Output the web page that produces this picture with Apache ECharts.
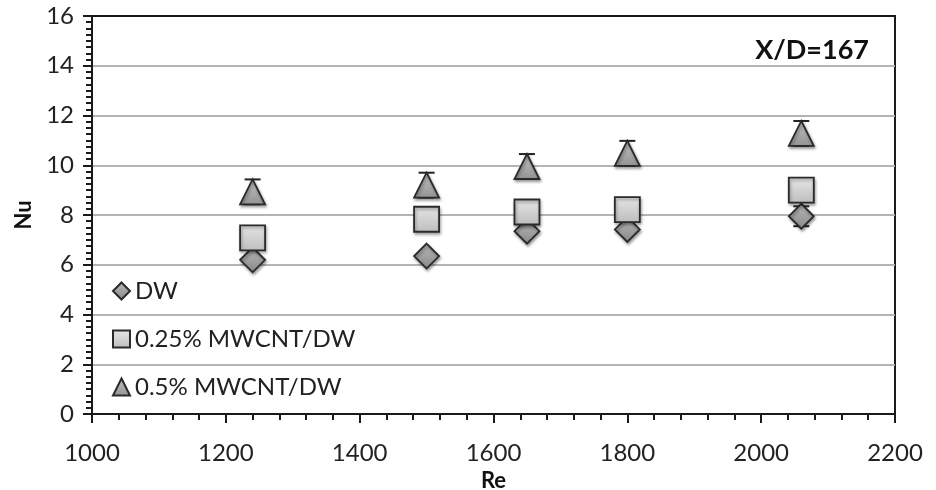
<!DOCTYPE html>
<html><head><meta charset="utf-8">
<script src="https://cdn.jsdelivr.net/npm/echarts@6/dist/echarts.min.js"></script>
<style>html,body{margin:0;padding:0;background:#fff}#c{width:936px;height:490px}</style>
</head><body><div id="c"></div>
<script>
const re = [1240, 1500, 1650, 1800, 2060];
const nuDW = [6.2, 6.35, 7.35, 7.42, 7.95];
const nu025 = [7.08, 7.83, 8.12, 8.22, 9.0];
const nu05 = [8.93, 9.2, 9.95, 10.48, 11.28];
const errDW = [0, 0, 0, 0, 0.4];
const err025 = [0.4, 0.4, 0.4, 0.4, 0.4];
const err05 = [0.5, 0.5, 0.5, 0.5, 0.5];
const seriesNames = ['DW', '0.25% MWCNT/DW', '0.5% MWCNT/DW'];
const xTicks = [1000, 1200, 1400, 1600, 1800, 2000, 2200];
const yTicks = [0, 2, 4, 6, 8, 10, 12, 14, 16];
const titleText = 'X/D=167';

const FONT = 'Lato';
function grad(c1, c2) {
  return new echarts.graphic.LinearGradient(0, 0, 0, 1, [{offset: 0, color: c1}, {offset: 1, color: c2}]);
}
function errSeries(vals, errs, z) {
  return {
    type: 'custom', z: z, silent: true,
    data: re.map((r, i) => [r, vals[i] - errs[i], vals[i] + errs[i], errs[i]]),
    renderItem: function (params, api) {
      if (api.value(3) <= 0) return null;
      const lo = api.coord([api.value(0), api.value(1)]);
      const hi = api.coord([api.value(0), api.value(2)]);
      const w = 8;
      const st = {stroke: '#222', lineWidth: 2};
      return {type: 'group', children: [
        {type: 'line', shape: {x1: lo[0], y1: lo[1], x2: hi[0], y2: hi[1]}, style: st},
        {type: 'line', shape: {x1: lo[0] - w, y1: lo[1], x2: lo[0] + w, y2: lo[1]}, style: st},
        {type: 'line', shape: {x1: hi[0] - w, y1: hi[1], x2: hi[0] + w, y2: hi[1]}, style: st}
      ]};
    }
  };
}
const shadow = {shadowBlur: 3, shadowOffsetX: 1, shadowOffsetY: 2, shadowColor: 'rgba(0,0,0,0.35)'};
function scatter(name, vals, symbol, size, c1, c2, z) {
  return {
    name: name, type: 'scatter', z: z, symbol: symbol, symbolSize: size,
    data: re.map((r, i) => [r, vals[i]]),
    itemStyle: Object.assign({color: grad(c1, c2), borderColor: '#2a2a2a', borderWidth: 1.8, opacity: 1}, shadow),
    emphasis: {disabled: true}
  };
}
const chart = echarts.init(document.getElementById('c'), null, {renderer: 'canvas'});
chart.setOption({
  animation: false,
  backgroundColor: '#fff',
  grid: {left: 92, right: 41, top: 16, bottom: 76, show: true, borderColor: '#1a1a1a', borderWidth: 2,
         containLabel: false, outerBoundsMode: 'none'},
  title: {text: titleText, right: 62, top: 32, textStyle: {fontFamily: FONT, fontWeight: 'bold', fontSize: 27, color: '#111'}},
  legend: {
    data: seriesNames, orient: 'vertical', left: 112, top: 278, itemGap: 22, padding: 0,
    itemWidth: 17, itemHeight: 17,
    textStyle: {fontFamily: FONT, fontSize: 24, color: '#222', lineHeight: 26}
  },
  xAxis: {
    type: 'value', min: xTicks[0], max: xTicks[xTicks.length - 1], interval: 200,
    name: 'Re', nameLocation: 'middle', nameGap: 55,
    nameTextStyle: {fontFamily: FONT, fontWeight: 'bold', fontSize: 22, color: '#111'},
    axisLine: {show: true, onZero: false, lineStyle: {color: '#1a1a1a', width: 2}},
    axisTick: {show: true, inside: false, length: 9, lineStyle: {color: '#1a1a1a', width: 2}},
    minorTick: {show: true, splitNumber: 5, length: 6, lineStyle: {color: '#1a1a1a', width: 2}},
    axisLabel: {fontFamily: FONT, fontSize: 24, color: '#222', margin: 27, formatter: v => String(v)},
    splitLine: {show: false}
  },
  yAxis: {
    type: 'value', min: yTicks[0], max: yTicks[yTicks.length - 1], interval: 2,
    name: 'Nu', nameLocation: 'middle', nameGap: 57, nameRotate: 90,
    nameTextStyle: {fontFamily: FONT, fontWeight: 'bold', fontSize: 22, color: '#111'},
    axisLine: {show: true, onZero: false, lineStyle: {color: '#1a1a1a', width: 2}},
    axisTick: {show: true, inside: false, length: 9, lineStyle: {color: '#1a1a1a', width: 2}},
    minorTick: {show: true, splitNumber: 8, length: 6, lineStyle: {color: '#1a1a1a', width: 2}},
    axisLabel: {fontFamily: FONT, fontSize: 24, color: '#222', margin: 18, formatter: v => String(v)},
    splitLine: {show: true, showMinLine: false, showMaxLine: false, lineStyle: {color: '#b4b4b4', width: 2}}
  },
  series: [
    errSeries(nuDW, errDW, 1),
    errSeries(nu025, err025, 1),
    errSeries(nu05, err05, 1),
    scatter(seriesNames[0], nuDW, 'diamond', [25, 25], '#b8b8b8', '#8a8a8a', 2),
    scatter(seriesNames[1], nu025, 'rect', [25, 25], '#e6e6e6', '#bdbdbd', 3),
    scatter(seriesNames[2], nu05, 'triangle', [25, 25], '#c4c4c4', '#929292', 4)
  ]
});
</script></body></html>
